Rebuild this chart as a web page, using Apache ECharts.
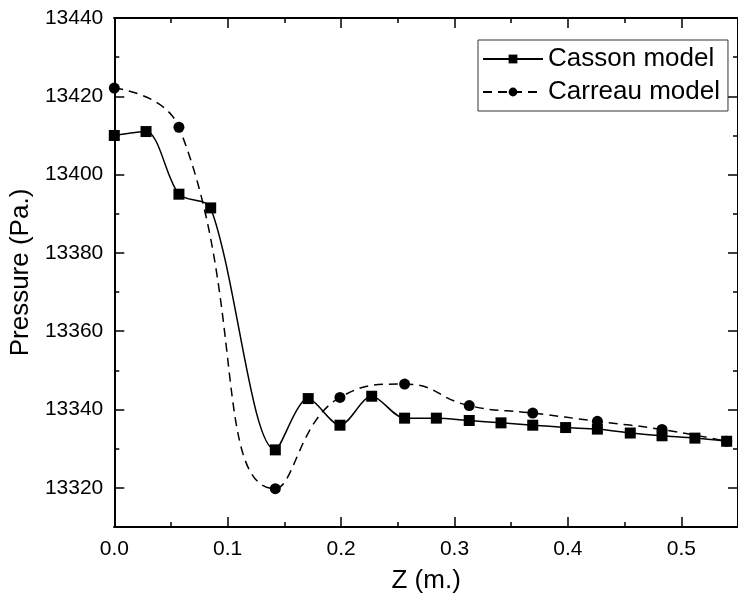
<!DOCTYPE html>
<html>
<head>
<meta charset="utf-8">
<script src="https://cdn.jsdelivr.net/npm/echarts@6/dist/echarts.min.js"></script>
<style>
html,body{margin:0;padding:0;background:#fff;}
#chart{width:738px;height:604px;}
</style>
</head>
<body>
<div id="chart"></div>
<script>
// Data
const cassonZ = [0, 0.028, 0.057, 0.085, 0.142, 0.171, 0.199, 0.227, 0.256, 0.284, 0.313, 0.341, 0.369, 0.398, 0.426, 0.455, 0.483, 0.512, 0.540];
const cassonP = [13410, 13411, 13395, 13391.5, 13329.7, 13342.8, 13336, 13343.4, 13337.8, 13337.8, 13337.2, 13336.6, 13336, 13335.4, 13335, 13334, 13333.3, 13332.7, 13331.9];
const carreauZ = [0, 0.057, 0.142, 0.199, 0.256, 0.313, 0.369, 0.426, 0.483, 0.540];
const carreauP = [13422.1, 13412.1, 13319.8, 13343.1, 13346.5, 13341, 13339.1, 13337, 13334.9, 13331.9];
const xMajorTicks = [0, 0.1, 0.2, 0.3, 0.4, 0.5];
const yMajorTicks = [13320, 13340, 13360, 13380, 13400, 13420, 13440];
const seriesNames = ['Casson model', 'Carreau model'];
const xTitle = 'Z (m.)';
const yTitle = 'Pressure (Pa.)';

const FONT = "'Liberation Sans', Arial, sans-serif";
const X_MIN = 0, X_MAX = 0.55, Y_MIN = 13310, Y_MAX = 13440;
const lineCol = '#000';

function xAxisDef(pos, major) {
  const a = {
    type: 'value', position: pos, min: X_MIN, max: X_MAX,
    axisLine: { show: true, onZero: false, lineStyle: { color: lineCol, width: 2 } },
    splitLine: { show: false },
    axisTick: { show: true, inside: true, length: major ? 10 : 5, lineStyle: { color: lineCol, width: 1.5 } },
    axisLabel: { show: false }
  };
  if (major) {
    a.axisTick.customValues = xMajorTicks;
    if (pos === 'bottom') {
      a.axisLabel = { show: true, customValues: xMajorTicks, formatter: v => v.toFixed(1),
        fontSize: 21, fontFamily: FONT, color: '#000', margin: 12 };
      a.name = xTitle; a.nameLocation = 'middle'; a.nameGap = 41;
      a.nameTextStyle = { fontSize: 26, fontFamily: FONT, color: '#000' };
    }
  } else {
    a.interval = 0.05;
  }
  return a;
}
function yAxisDef(pos, major) {
  const a = {
    type: 'value', position: pos, min: Y_MIN, max: Y_MAX,
    axisLine: { show: true, onZero: false, lineStyle: { color: lineCol, width: 2 } },
    splitLine: { show: false },
    axisTick: { show: true, inside: true, length: major ? 10 : 5, lineStyle: { color: lineCol, width: 1.5 } },
    axisLabel: { show: false }
  };
  if (major) {
    a.axisTick.customValues = yMajorTicks;
    if (pos === 'left') {
      a.axisLabel = { show: true, customValues: yMajorTicks, formatter: v => String(v),
        fontSize: 21, fontFamily: FONT, color: '#000', margin: 11 };
      a.name = yTitle; a.nameLocation = 'middle'; a.nameGap = 74; a.nameRotate = 90;
      a.nameTextStyle = { fontSize: 26, fontFamily: FONT, color: '#000' };
    }
  } else {
    a.interval = 10;
  }
  return a;
}

const chart = echarts.init(document.getElementById('chart'), null, { renderer: 'canvas' });
chart.setOption({
  animation: false,
  backgroundColor: '#fff',
  grid: { left: 113, top: 18, width: 632, height: 509, containLabel: false },
  xAxis: [xAxisDef('bottom', true), xAxisDef('bottom', false), xAxisDef('top', true), xAxisDef('top', false)],
  yAxis: [yAxisDef('left', true), yAxisDef('left', false), yAxisDef('right', true), yAxisDef('right', false)],
  legend: {
    show: true, orient: 'vertical', left: 478, top: 40,
    borderColor: '#333', borderWidth: 1, padding: [6, 8, 6, 4], itemGap: 7,
    itemWidth: 60, itemHeight: 11,
    textStyle: { fontSize: 26, fontFamily: FONT, color: '#000' },
    data: seriesNames
  },
  series: [
    {
      name: seriesNames[0], type: 'line', xAxisIndex: 0, yAxisIndex: 0,
      data: cassonZ.map((z, i) => [z, cassonP[i]]),
      smooth: 0.3, symbol: 'rect', symbolSize: 11,
      itemStyle: { color: '#000' },
      lineStyle: { color: '#000', width: 1.5 }
    },
    {
      name: seriesNames[1], type: 'line', xAxisIndex: 0, yAxisIndex: 0,
      data: carreauZ.map((z, i) => [z, carreauP[i]]),
      smooth: 0.5, symbol: 'circle', symbolSize: 11,
      itemStyle: { color: '#000' },
      lineStyle: { color: '#000', width: 1.5, type: [9, 6] }
    }
  ]
});
</script>
</body>
</html>
